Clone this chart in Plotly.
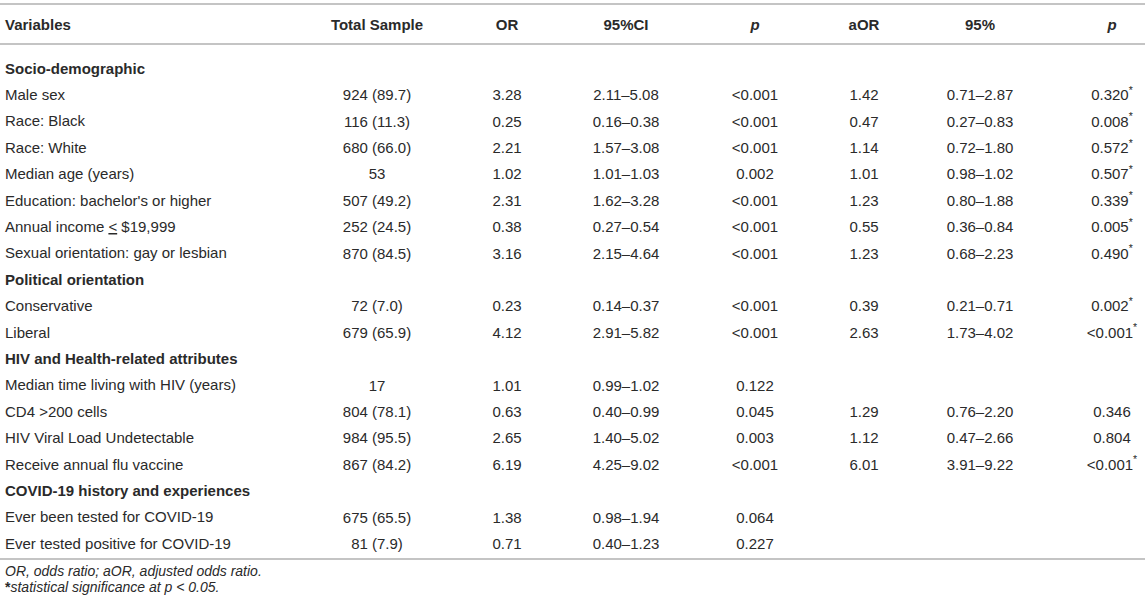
import plotly.graph_objects as go

# table content
variables = [
    "Socio-demographic", "Male sex", "Race: Black", "Race: White", "Median age (years)",
    "Education: bachelor's or higher", "Annual income <u>&lt;</u> $19,999",
    "Sexual orientation: gay or lesbian",
    "Political orientation", "Conservative", "Liberal",
    "HIV and Health-related attributes", "Median time living with HIV (years)",
    "CD4 &gt;200 cells", "HIV Viral Load Undetectable", "Receive annual flu vaccine",
    "COVID-19 history and experiences", "Ever been tested for COVID-19",
    "Ever tested positive for COVID-19",
]
is_section = [True, False, False, False, False, False, False, False,
              True, False, False,
              True, False, False, False, False,
              True, False, False]
total_sample = ["", "924 (89.7)", "116 (11.3)", "680 (66.0)", "53", "507 (49.2)", "252 (24.5)",
                "870 (84.5)", "", "72 (7.0)", "679 (65.9)", "", "17", "804 (78.1)", "984 (95.5)",
                "867 (84.2)", "", "675 (65.5)", "81 (7.9)"]
odds_ratio = ["", "3.28", "0.25", "2.21", "1.02", "2.31", "0.38", "3.16", "", "0.23", "4.12", "",
              "1.01", "0.63", "2.65", "6.19", "", "1.38", "0.71"]
ci_95 = ["", "2.11–5.08", "0.16–0.38", "1.57–3.08", "1.01–1.03", "1.62–3.28", "0.27–0.54",
         "2.15–4.64", "", "0.14–0.37", "2.91–5.82", "", "0.99–1.02", "0.40–0.99", "1.40–5.02",
         "4.25–9.02", "", "0.98–1.94", "0.40–1.23"]
p_value = ["", "<0.001", "<0.001", "<0.001", "0.002", "<0.001", "<0.001", "<0.001", "",
           "<0.001", "<0.001", "", "0.122", "0.045", "0.003", "<0.001", "", "0.064", "0.227"]
adj_or = ["", "1.42", "0.47", "1.14", "1.01", "1.23", "0.55", "1.23", "", "0.39", "2.63", "",
          "", "1.29", "1.12", "6.01", "", "", ""]
adj_ci = ["", "0.71–2.87", "0.27–0.83", "0.72–1.80", "0.98–1.02", "0.80–1.88", "0.36–0.84",
          "0.68–2.23", "", "0.21–0.71", "1.73–4.02", "", "", "0.76–2.20", "0.47–2.66",
          "3.91–9.22", "", "", ""]
adj_p = ["", "0.320*", "0.008*", "0.572*", "0.507*", "0.339*", "0.005*", "0.490*", "",
         "0.002*", "<0.001*", "", "", "0.346", "0.804", "<0.001*", "", "", ""]

headers = ["Variables", "Total Sample", "OR", "95%CI", "<i>p</i>", "aOR", "95%", "<i>p</i>"]
footnotes = ["<i>OR, odds ratio; aOR, adjusted odds ratio.</i>",
             "<b>*</b><i>statistical significance at p &lt; 0.05.</i>"]

W, H = 1145, 613
FONT = "Liberation Sans, Arial, Helvetica, sans-serif"
INK = "#2a2a2a"
RULE = "#c4c4c4"
col_x = [3, 377, 507, 626, 755, 864, 980, 1112]
header_y = 26
row_y0, row_step = 70, 26.4
rule_y = [4, 44, 559]


def esc(s):
    return s.replace("<", "&lt;").replace(">", "&gt;")


def star(s):
    s = esc(s)
    return s.replace("*", "<sup>*</sup>")


row_y = [row_y0 + i * row_step for i in range(len(variables))]
var_text = ["<b>%s</b>" % v if sec else v for v, sec in zip(variables, is_section)]

columns = [
    total_sample,
    odds_ratio,
    [esc(v) for v in ci_95],
    [esc(v) for v in p_value],
    adj_or,
    adj_ci,
    [star(v) for v in adj_p],
]

fig = go.Figure()

# centred value columns
for cx, col in zip(col_x[1:], columns):
    fig.add_trace(go.Scatter(
        x=[cx] * len(col), y=row_y, text=col, mode="text",
        textposition="middle center",
        textfont=dict(family=FONT, size=15, color=INK),
        hoverinfo="skip", cliponaxis=False,
    ))

fig.add_trace(go.Scatter(
    x=col_x[1:], y=[header_y] * (len(headers) - 1),
    text=["<b>%s</b>" % h for h in headers[1:]], mode="text",
    textposition="middle center",
    textfont=dict(family=FONT, size=15, color=INK),
    hoverinfo="skip", cliponaxis=False,
))

# left-aligned variable column (annotations so the text can start at the edge)
for txt, ry in zip(["<b>%s</b>" % headers[0]] + var_text, [header_y] + row_y):
    fig.add_annotation(x=col_x[0], y=ry - 2, xref="x", yref="y", text=txt,
                       showarrow=False, xanchor="left", yanchor="middle",
                       font=dict(family=FONT, size=15, color=INK))

for ry in rule_y:
    fig.add_shape(type="line", xref="x", yref="y", x0=0, x1=W, y0=ry, y1=ry,
                  line=dict(color=RULE, width=2))

for k, note in enumerate(footnotes):
    fig.add_annotation(x=3, y=571 + k * 16, xref="x", yref="y", text=note,
                       showarrow=False, xanchor="left", yanchor="middle",
                       font=dict(family=FONT, size=14, color=INK))

fig.update_layout(
    width=W, height=H,
    margin=dict(l=0, r=0, t=0, b=0),
    paper_bgcolor="white", plot_bgcolor="white",
    showlegend=False, hovermode=False,
    xaxis=dict(range=[0, W], visible=False, fixedrange=True),
    yaxis=dict(range=[H, 0], visible=False, fixedrange=True),
)

# page margin off so the figure sits at the window's top-left corner
fig.write_html("out.html", config={"displayModeBar": False},
               post_script="document.body.style.margin='0';")
